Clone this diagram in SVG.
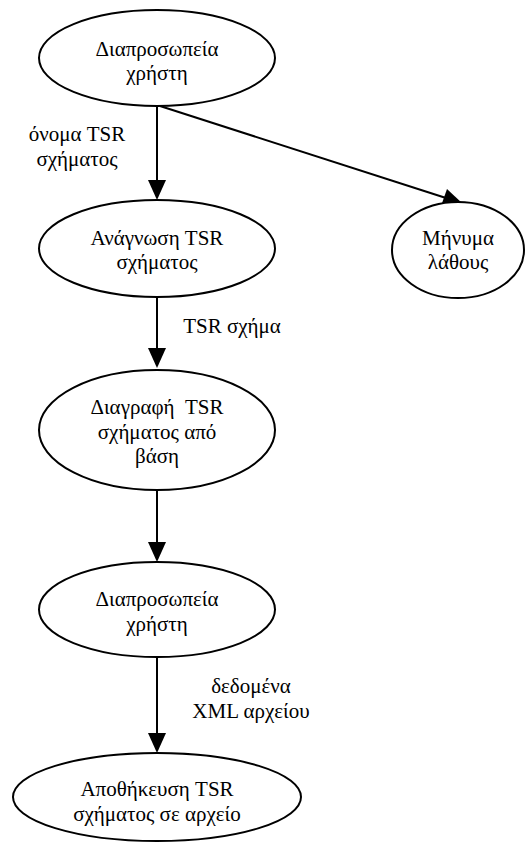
<svg xmlns="http://www.w3.org/2000/svg" width="532" height="843" viewBox="0 0 532 843">
<style>
.n{fill:#fff;stroke:#000;stroke-width:2}
.e{stroke:#000;stroke-width:2;fill:none}
.h{fill:#000}
</style>
<rect width="532" height="843" fill="#fff"/>
<g font-family="Liberation Serif, Times New Roman, DejaVu Serif, serif" font-size="21" text-anchor="middle" fill="#000">
<g id="connectors">
<line class="e" x1="157" y1="106" x2="157" y2="182"/>
<polygon class="h" points="148,180 166,180 157,200"/>
<line class="e" x1="160" y1="106" x2="446" y2="198"/>
<polygon class="h" points="441,206 447,189 463,204"/>
<line class="e" x1="157" y1="297" x2="157" y2="350"/>
<polygon class="h" points="148,348 166,348 157,368"/>
<line class="e" x1="157" y1="490" x2="157" y2="544"/>
<polygon class="h" points="148,542 166,542 157,562"/>
<line class="e" x1="157" y1="657" x2="157" y2="735"/>
<polygon class="h" points="148,733 166,733 157,753"/>
<text x="77" y="141">όνομα TSR</text>
<text x="77" y="166">σχήματος</text>
<text x="232" y="333">TSR σχήμα</text>
<text x="251" y="693">δεδομένα</text>
<text x="251" y="718">XML αρχείου</text>
</g>
<g id="n1"><ellipse class="n" cx="157" cy="58" rx="118" ry="48"/>
<text x="157" y="56">Διαπροσωπεία</text><text x="157" y="80">χρήστη</text></g>
<g id="n2"><ellipse class="n" cx="157" cy="248.5" rx="118" ry="48.5"/>
<text x="157" y="245">Ανάγνωση TSR</text><text x="157" y="269">σχήματος</text></g>
<g id="n3"><ellipse class="n" cx="458" cy="250" rx="66" ry="48"/>
<text x="458" y="245">Μήνυμα</text><text x="458" y="269">λάθους</text></g>
<g id="n4"><ellipse class="n" cx="157" cy="430" rx="118" ry="60"/>
<text x="157" y="414" xml:space="preserve">Διαγραφή  TSR</text><text x="157" y="439">σχήματος από</text><text x="157" y="463">βάση</text></g>
<g id="n5"><ellipse class="n" cx="157" cy="609.5" rx="118" ry="47.5"/>
<text x="157" y="606">Διαπροσωπεία</text><text x="157" y="631">χρήστη</text></g>
<g id="n6"><ellipse class="n" cx="157" cy="797" rx="144" ry="44"/>
<text x="157" y="796">Αποθήκευση TSR</text><text x="157" y="821">σχήματος σε αρχείο</text></g>
</g>
</svg>
